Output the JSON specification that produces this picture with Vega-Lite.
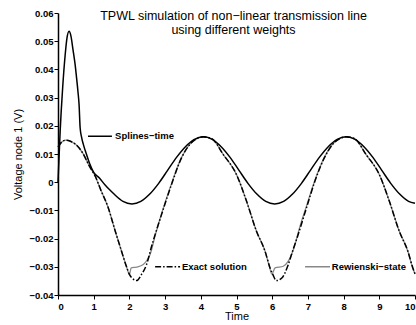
{
  "$schema": "https://vega.github.io/schema/vega-lite/v6.json",
  "width": 357,
  "height": 282,
  "autosize": "none",
  "padding": {"left": 58, "top": 13, "right": 1, "bottom": 30},
  "background": "white",
  "config": {
    "font": "Liberation Sans",
    "view": {"stroke": null},
    "axis": {"grid": false, "domainColor": "black", "domainWidth": 1.5, "tickColor": "black", "tickWidth": 1, "tickSize": 4, "labelFont": "Liberation Sans", "labelFontWeight": "bold", "labelFontSize": 9.5, "labelColor": "black", "titleFont": "Liberation Sans", "titleFontWeight": "normal", "titleFontSize": 11, "titleColor": "black"}
  },
  "title": {
    "text": ["TPWL simulation of non−linear transmission line", "using different weights"],
    "orient": "top",
    "anchor": "middle",
    "offset": 0,
    "baseline": "top",
    "fontSize": 12.5,
    "fontWeight": "normal",
    "lineHeight": 14,
    "dx": -3,
    "dy": 28,
    "color": "black"
  },
  "datasets": {
    "curves": [
      {"series": "Splines-time", "t": 0, "v": 0.0},
      {"series": "Splines-time", "t": 0.06, "v": 0.018},
      {"series": "Splines-time", "t": 0.13, "v": 0.0334},
      {"series": "Splines-time", "t": 0.2, "v": 0.045},
      {"series": "Splines-time", "t": 0.25, "v": 0.051},
      {"series": "Splines-time", "t": 0.31, "v": 0.0535},
      {"series": "Splines-time", "t": 0.36, "v": 0.052},
      {"series": "Splines-time", "t": 0.42, "v": 0.047},
      {"series": "Splines-time", "t": 0.48, "v": 0.0417},
      {"series": "Splines-time", "t": 0.52, "v": 0.037},
      {"series": "Splines-time", "t": 0.56, "v": 0.032},
      {"series": "Splines-time", "t": 0.59, "v": 0.0276},
      {"series": "Splines-time", "t": 0.62, "v": 0.0193},
      {"series": "Splines-time", "t": 0.66, "v": 0.016},
      {"series": "Splines-time", "t": 0.71, "v": 0.0134},
      {"series": "Splines-time", "t": 0.8, "v": 0.0098},
      {"series": "Splines-time", "t": 0.88, "v": 0.0068},
      {"series": "Splines-time", "t": 1.0, "v": 0.0035},
      {"series": "Splines-time", "t": 1.16, "v": 0.0015},
      {"series": "Splines-time", "t": 1.32, "v": -0.001},
      {"series": "Splines-time", "t": 1.44, "v": -0.0026},
      {"series": "Splines-time", "t": 1.57, "v": -0.0042},
      {"series": "Splines-time", "t": 1.82, "v": -0.0068},
      {"series": "Splines-time", "t": 2.07, "v": -0.0077},
      {"series": "Splines-time", "t": 2.32, "v": -0.0068},
      {"series": "Splines-time", "t": 2.57, "v": -0.0042},
      {"series": "Splines-time", "t": 2.82, "v": -0.0004},
      {"series": "Splines-time", "t": 3.07, "v": 0.0042},
      {"series": "Splines-time", "t": 3.32, "v": 0.0088},
      {"series": "Splines-time", "t": 3.57, "v": 0.0126},
      {"series": "Splines-time", "t": 3.82, "v": 0.0152},
      {"series": "Splines-time", "t": 4.07, "v": 0.0161},
      {"series": "Splines-time", "t": 4.32, "v": 0.0152},
      {"series": "Splines-time", "t": 4.57, "v": 0.0126},
      {"series": "Splines-time", "t": 4.82, "v": 0.0088},
      {"series": "Splines-time", "t": 5.07, "v": 0.0042},
      {"series": "Splines-time", "t": 5.32, "v": -0.0004},
      {"series": "Splines-time", "t": 5.57, "v": -0.0042},
      {"series": "Splines-time", "t": 5.82, "v": -0.0068},
      {"series": "Splines-time", "t": 6.07, "v": -0.0077},
      {"series": "Splines-time", "t": 6.32, "v": -0.0068},
      {"series": "Splines-time", "t": 6.57, "v": -0.0042},
      {"series": "Splines-time", "t": 6.82, "v": -0.0004},
      {"series": "Splines-time", "t": 7.07, "v": 0.0042},
      {"series": "Splines-time", "t": 7.32, "v": 0.0088},
      {"series": "Splines-time", "t": 7.57, "v": 0.0126},
      {"series": "Splines-time", "t": 7.82, "v": 0.0152},
      {"series": "Splines-time", "t": 8.07, "v": 0.0161},
      {"series": "Splines-time", "t": 8.32, "v": 0.0152},
      {"series": "Splines-time", "t": 8.57, "v": 0.0126},
      {"series": "Splines-time", "t": 8.82, "v": 0.0088},
      {"series": "Splines-time", "t": 9.07, "v": 0.0042},
      {"series": "Splines-time", "t": 9.32, "v": -0.0004},
      {"series": "Splines-time", "t": 9.57, "v": -0.0042},
      {"series": "Splines-time", "t": 9.82, "v": -0.0068},
      {"series": "Splines-time", "t": 10.0, "v": -0.0075},

      {"series": "Rewienski-state", "t": 0, "v": 0.0125},
      {"series": "Rewienski-state", "t": 0.1, "v": 0.0142},
      {"series": "Rewienski-state", "t": 0.22, "v": 0.0149},
      {"series": "Rewienski-state", "t": 0.35, "v": 0.0145},
      {"series": "Rewienski-state", "t": 0.5, "v": 0.0134},
      {"series": "Rewienski-state", "t": 0.69, "v": 0.0104},
      {"series": "Rewienski-state", "t": 0.88, "v": 0.0057},
      {"series": "Rewienski-state", "t": 1.04, "v": 0.0022},
      {"series": "Rewienski-state", "t": 1.2, "v": -0.0028},
      {"series": "Rewienski-state", "t": 1.4, "v": -0.0088},
      {"series": "Rewienski-state", "t": 1.6, "v": -0.0172},
      {"series": "Rewienski-state", "t": 1.78, "v": -0.0245},
      {"series": "Rewienski-state", "t": 1.92, "v": -0.03},
      {"series": "Rewienski-state", "t": 2.0, "v": -0.0327},
      {"series": "Rewienski-state", "t": 2.05, "v": -0.0304},
      {"series": "Rewienski-state", "t": 2.2, "v": -0.0301},
      {"series": "Rewienski-state", "t": 2.39, "v": -0.0292},
      {"series": "Rewienski-state", "t": 2.5, "v": -0.0275},
      {"series": "Rewienski-state", "t": 2.58, "v": -0.0256},
      {"series": "Rewienski-state", "t": 2.72, "v": -0.019},
      {"series": "Rewienski-state", "t": 2.9, "v": -0.0112},
      {"series": "Rewienski-state", "t": 3.18, "v": -0.0005},
      {"series": "Rewienski-state", "t": 3.46, "v": 0.0088},
      {"series": "Rewienski-state", "t": 3.7, "v": 0.0136},
      {"series": "Rewienski-state", "t": 3.9, "v": 0.0155},
      {"series": "Rewienski-state", "t": 4.07, "v": 0.0161},
      {"series": "Rewienski-state", "t": 4.3, "v": 0.0155},
      {"series": "Rewienski-state", "t": 4.63, "v": 0.0098},
      {"series": "Rewienski-state", "t": 5.0, "v": 0.0027},
      {"series": "Rewienski-state", "t": 5.28, "v": -0.0067},
      {"series": "Rewienski-state", "t": 5.56, "v": -0.0174},
      {"series": "Rewienski-state", "t": 5.8, "v": -0.0245},
      {"series": "Rewienski-state", "t": 5.92, "v": -0.0298},
      {"series": "Rewienski-state", "t": 5.99, "v": -0.0326},
      {"series": "Rewienski-state", "t": 6.08, "v": -0.0304},
      {"series": "Rewienski-state", "t": 6.31, "v": -0.0298},
      {"series": "Rewienski-state", "t": 6.45, "v": -0.028},
      {"series": "Rewienski-state", "t": 6.64, "v": -0.0221},
      {"series": "Rewienski-state", "t": 6.73, "v": -0.0178},
      {"series": "Rewienski-state", "t": 6.96, "v": -0.0085},
      {"series": "Rewienski-state", "t": 7.2, "v": 0.0008},
      {"series": "Rewienski-state", "t": 7.46, "v": 0.0088},
      {"series": "Rewienski-state", "t": 7.7, "v": 0.0136},
      {"series": "Rewienski-state", "t": 7.9, "v": 0.0155},
      {"series": "Rewienski-state", "t": 8.07, "v": 0.0161},
      {"series": "Rewienski-state", "t": 8.3, "v": 0.0155},
      {"series": "Rewienski-state", "t": 8.63, "v": 0.0098},
      {"series": "Rewienski-state", "t": 9.0, "v": 0.0027},
      {"series": "Rewienski-state", "t": 9.28, "v": -0.0067},
      {"series": "Rewienski-state", "t": 9.56, "v": -0.0174},
      {"series": "Rewienski-state", "t": 9.8, "v": -0.0245},
      {"series": "Rewienski-state", "t": 9.92, "v": -0.0298},
      {"series": "Rewienski-state", "t": 10.0, "v": -0.0326},

      {"series": "Exact solution", "t": 0, "v": 0.0125},
      {"series": "Exact solution", "t": 0.1, "v": 0.0142},
      {"series": "Exact solution", "t": 0.22, "v": 0.0149},
      {"series": "Exact solution", "t": 0.35, "v": 0.0145},
      {"series": "Exact solution", "t": 0.5, "v": 0.0134},
      {"series": "Exact solution", "t": 0.69, "v": 0.0104},
      {"series": "Exact solution", "t": 0.88, "v": 0.0057},
      {"series": "Exact solution", "t": 1.04, "v": 0.0022},
      {"series": "Exact solution", "t": 1.2, "v": -0.0028},
      {"series": "Exact solution", "t": 1.4, "v": -0.0088},
      {"series": "Exact solution", "t": 1.6, "v": -0.0172},
      {"series": "Exact solution", "t": 1.78, "v": -0.0245},
      {"series": "Exact solution", "t": 1.92, "v": -0.03},
      {"series": "Exact solution", "t": 2.0, "v": -0.0327},
      {"series": "Exact solution", "t": 2.1, "v": -0.0343},
      {"series": "Exact solution", "t": 2.2, "v": -0.0349},
      {"series": "Exact solution", "t": 2.34, "v": -0.0327},
      {"series": "Exact solution", "t": 2.48, "v": -0.0292},
      {"series": "Exact solution", "t": 2.62, "v": -0.0228},
      {"series": "Exact solution", "t": 2.72, "v": -0.0186},
      {"series": "Exact solution", "t": 2.9, "v": -0.0115},
      {"series": "Exact solution", "t": 3.18, "v": -0.0008},
      {"series": "Exact solution", "t": 3.46, "v": 0.0086},
      {"series": "Exact solution", "t": 3.7, "v": 0.0135},
      {"series": "Exact solution", "t": 3.9, "v": 0.0155},
      {"series": "Exact solution", "t": 4.07, "v": 0.0161},
      {"series": "Exact solution", "t": 4.3, "v": 0.0155},
      {"series": "Exact solution", "t": 4.63, "v": 0.0098},
      {"series": "Exact solution", "t": 5.0, "v": 0.0027},
      {"series": "Exact solution", "t": 5.28, "v": -0.0067},
      {"series": "Exact solution", "t": 5.56, "v": -0.0174},
      {"series": "Exact solution", "t": 5.8, "v": -0.0245},
      {"series": "Exact solution", "t": 5.94, "v": -0.0304},
      {"series": "Exact solution", "t": 6.02, "v": -0.0328},
      {"series": "Exact solution", "t": 6.12, "v": -0.0349},
      {"series": "Exact solution", "t": 6.27, "v": -0.034},
      {"series": "Exact solution", "t": 6.45, "v": -0.0292},
      {"series": "Exact solution", "t": 6.6, "v": -0.0233},
      {"series": "Exact solution", "t": 6.69, "v": -0.02},
      {"series": "Exact solution", "t": 6.96, "v": -0.0091},
      {"series": "Exact solution", "t": 7.2, "v": 0.0005},
      {"series": "Exact solution", "t": 7.46, "v": 0.0086},
      {"series": "Exact solution", "t": 7.7, "v": 0.0135},
      {"series": "Exact solution", "t": 7.9, "v": 0.0155},
      {"series": "Exact solution", "t": 8.07, "v": 0.0161},
      {"series": "Exact solution", "t": 8.3, "v": 0.0155},
      {"series": "Exact solution", "t": 8.63, "v": 0.0098},
      {"series": "Exact solution", "t": 9.0, "v": 0.0027},
      {"series": "Exact solution", "t": 9.28, "v": -0.0067},
      {"series": "Exact solution", "t": 9.56, "v": -0.0174},
      {"series": "Exact solution", "t": 9.8, "v": -0.0245},
      {"series": "Exact solution", "t": 9.94, "v": -0.0304},
      {"series": "Exact solution", "t": 10.0, "v": -0.0325}
    ],
    "keys": [
      {"series": "Splines-time", "t": 0.84, "v": 0.0163},
      {"series": "Splines-time", "t": 1.51, "v": 0.0163},
      {"series": "Exact solution", "t": 2.72, "v": -0.0300},
      {"series": "Exact solution", "t": 3.42, "v": -0.0300},
      {"series": "Rewienski-state", "t": 6.92, "v": -0.0300},
      {"series": "Rewienski-state", "t": 7.62, "v": -0.0300}
    ],
    "labels": [
      {"label": "Splines−time", "t": 1.6, "v": 0.0163},
      {"label": "Exact solution", "t": 3.47, "v": -0.0300},
      {"label": "Rewienski−state", "t": 7.67, "v": -0.0300}
    ]
  },
  "encoding": {
    "x": {"field": "t", "type": "quantitative", "scale": {"domain": [0, 10], "nice": false, "zero": false},
          "axis": {"title": "Time", "values": [0,1,2,3,4,5,6,7,8,9,10], "format": "d", "labelPadding": 2, "titlePadding": 0}},
    "y": {"field": "v", "type": "quantitative", "scale": {"domain": [-0.04, 0.06], "nice": false, "zero": false},
          "axis": {"title": "Voltage node 1 (V)", "values": [-0.04,-0.03,-0.02,-0.01,0,0.01,0.02,0.03,0.04,0.05,0.06], "labelExpr": "datum.value == 0 ? '0' : format(datum.value, '.2f')", "labelPadding": 1, "titlePadding": 5}}
  },
  "layer": [
    {
      "data": {"name": "curves"},
      "transform": [{"filter": "datum.series == 'Rewienski-state'"}],
      "mark": {"type": "line", "color": "#888888", "strokeWidth": 1.3, "interpolate": "monotone"}
    },
    {
      "data": {"name": "curves"},
      "transform": [{"filter": "datum.series == 'Exact solution'"}],
      "mark": {"type": "line", "color": "black", "strokeWidth": 1.5, "strokeDash": [6, 2, 1.5, 2], "interpolate": "monotone"}
    },
    {
      "data": {"name": "curves"},
      "transform": [{"filter": "datum.series == 'Splines-time'"}],
      "mark": {"type": "line", "color": "black", "strokeWidth": 1.5, "interpolate": "monotone"}
    },
    {
      "data": {"name": "keys"},
      "mark": {"type": "line", "strokeWidth": 1.5},
      "encoding": {
        "detail": {"field": "series"},
        "color": {"field": "series", "type": "nominal", "scale": {"domain": ["Splines-time", "Exact solution", "Rewienski-state"], "range": ["black", "black", "#888888"]}, "legend": null},
        "strokeDash": {"field": "series", "type": "nominal", "scale": {"domain": ["Splines-time", "Exact solution", "Rewienski-state"], "range": [[1, 0], [6, 2, 1.5, 2], [1, 0]]}, "legend": null}
      }
    },
    {
      "data": {"name": "labels"},
      "mark": {"type": "text", "align": "left", "baseline": "middle", "fontWeight": "bold", "fontSize": 9.5, "font": "Liberation Sans", "color": "black"},
      "encoding": {"text": {"field": "label"}}
    }
  ]
}
